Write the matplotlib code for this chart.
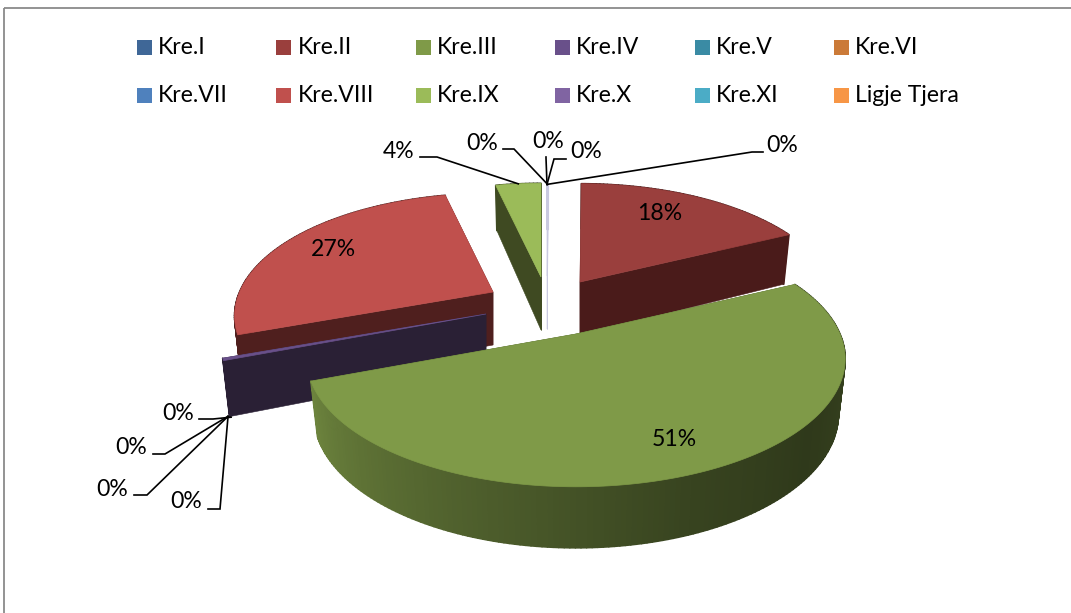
import numpy as np
import matplotlib
matplotlib.use('Agg')
import matplotlib.pyplot as plt
from matplotlib.patches import Polygon, Rectangle
from matplotlib.collections import PolyCollection
from matplotlib.colors import to_rgb

# data
names = ['Kre.I', 'Kre.II', 'Kre.III', 'Kre.IV', 'Kre.V', 'Kre.VI',
         'Kre.VII', 'Kre.VIII', 'Kre.IX', 'Kre.X', 'Kre.XI', 'Ligje Tjera']
values = [0.1, 17.7, 51.4, 0.3, 0.0, 0.0, 0.0, 26.9, 3.6, 0.0, 0.0, 0.0]

colors = ['#3f6797', '#9a3f3d', '#7f9a48', '#69508a', '#3a8ba4', '#cb7a38',
          '#4f81bd', '#c0504d', '#9bbb59', '#8064a2', '#4bacc6', '#f79646']

plt.rcParams['font.family'] = ['Lato', 'DejaVu Sans']

# look of the fake 3d pie, all in pixels
R = 264
G = 123
P = 0.195
DEPTH = 53
# where each exploded slice has its tip, and how big it is
tips = {'Kre.I': (547, 276), 'Kre.II': (580, 282), 'Kre.III': (576, 334),
        'Kre.IV': (486, 314), 'Kre.V': (486, 314), 'Kre.VI': (486, 314),
        'Kre.VII': (486, 314), 'Kre.VIII': (493, 292), 'Kre.IX': (541, 277),
        'Kre.X': (547, 276), 'Kre.XI': (547, 276), 'Ligje Tjera': (547, 276)}
scale = {'Kre.I': 0.89, 'Kre.X': 0.89, 'Kre.XI': 0.89, 'Ligje Tjera': 0.89,
         'Kre.IX': 0.91, 'Kre.II': 0.955, 'Kre.VIII': 0.96, 'Kre.IV': 0.99}
wall_col = {'Kre.I': '#c9c9e0', 'Kre.II': '#4a1b1a', 'Kre.III': '#3a4820', 'Kre.IV': '#2a2035',
            'Kre.VIII': '#4f1f1e', 'Kre.IX': '#3f4a22'}
top_col = {'Kre.I': '#c9c9e0'}
draw_order = ['Kre.VIII', 'Kre.IV', 'Kre.IX', 'Kre.I', 'Kre.II', 'Kre.III']

# label centre for the percent text
label_pos = {'Kre.II': (660, 213), 'Kre.III': (674, 439), 'Kre.VIII': (333, 249), 'Kre.IX': (399, 151),
             'Kre.I': (482, 143), 'Kre.X': (548, 142), 'Kre.XI': (586, 152), 'Ligje Tjera': (782, 145),
             'Kre.IV': (178, 413), 'Kre.V': (131, 447), 'Kre.VI': (112, 489), 'Kre.VII': (186, 501)}
# leader line: start and elbow next to the label
leaders = {'Kre.IX': [(420, 157), (437, 157)], 'Kre.I': [(503, 149), (514, 149)],
           'Kre.X': [(546, 157), (546, 158)], 'Kre.XI': [(566, 159), (554, 159)],
           'Ligje Tjera': [(763, 152), (752, 152)],
           'Kre.IV': [(199, 419), (213, 419)], 'Kre.V': [(153, 454), (165, 454)],
           'Kre.VI': [(134, 495), (147, 495)], 'Kre.VII': [(208, 509), (220, 509)]}


def offs(theta, k=1.0):
    # theta clockwise from the back of the pie, degrees
    t = np.radians(theta)
    x, y = np.sin(t), np.cos(t)
    s = 1 / (1 + P * y)
    return k * R * x * s, -k * G * y * s


def depth(theta):
    return DEPTH - 8 * np.cos(np.radians(theta))


def top_pts(name, a, b):
    tx, ty = tips[name]
    th = np.linspace(a, b, max(int(b - a), 2) + 1)
    dx, dy = offs(th, scale.get(name, 1.0))
    return tx + dx, ty + dy, th


def shade(theta):
    return np.interp(theta, [60, 90, 130, 160, 200, 250], [0.40, 0.44, 0.37, 0.44, 0.62, 0.86])


fig = plt.figure(figsize=(10.71, 6.13), dpi=100)
ax = fig.add_axes([0, 0, 1, 1])
ax.set_xlim(0, 1071)
ax.set_ylim(613, 0)
ax.axis('off')

# chart border, runs off the picture on the right and bottom
ax.add_patch(Rectangle((4, 8), 1200, 800, fill=False, ec='#8a8a8a', lw=1.3))

# legend
for i, (n, c) in enumerate(zip(names, colors)):
    col = i % 6
    row = i // 6
    x = 137 + col * 139.4
    y = 40 + row * 48
    ax.add_patch(Rectangle((x, y), 15, 15, fc=c, ec='none'))
    ax.text(x + 21, y + 7.5, n, fontsize=16.6, va='center', ha='left', color='black')

# slices
angles = np.cumsum([0] + values) * 360 / sum(values)
start = dict(zip(names, angles[:-1]))
end = dict(zip(names, angles[1:]))

for n in draw_order:
    a, b = start[n], end[n]
    xs, ys, th = top_pts(n, a, b)
    tx, ty = tips[n]
    c = colors[names.index(n)]
    wc = wall_col[n]

    # flat walls on both cut edges
    for i in [0, -1]:
        d0 = depth(th[i])
        px = [tx, xs[i], tx + (xs[i] - tx) * 0.975, tx]
        py = [ty, ys[i], ys[i] + d0, ty + DEPTH]
        ax.add_patch(Polygon(np.column_stack([px, py]), fc=wc, ec=wc, lw=0.4))

    # outer round wall, split up so it can carry the gradient
    bx = tx + (xs - tx) * 0.975
    by = ys + depth(th)
    quads = [[(xs[i], ys[i]), (xs[i + 1], ys[i + 1]), (bx[i + 1], by[i + 1]), (bx[i], by[i])]
             for i in range(len(th) - 1)]
    if n == 'Kre.III':
        base = np.array(to_rgb(c))
        qc = [tuple(base * shade((th[i] + th[i + 1]) / 2)) for i in range(len(th) - 1)]
    else:
        qc = [wc] * len(quads)
    ax.add_collection(PolyCollection(quads, facecolors=qc, edgecolors=qc, linewidths=1.2))

    # top surface
    tc = top_col.get(n, c)
    ax.add_patch(Polygon(np.column_stack([np.r_[tx, xs], np.r_[ty, ys]]), fc=tc, ec=tc, lw=0.5))

# percent labels and leader lines
for n, v in zip(names, values):
    lx, ly = label_pos[n]
    ax.text(lx, ly, f'{v:.0f}%', fontsize=16.6, ha='center', va='center', color='black')
    if n in leaders:
        mid = (start[n] + end[n]) / 2
        xs, ys, th = top_pts(n, mid, mid + 0.01)
        ex, ey = xs[0], ys[0]
        if n in ['Kre.IV', 'Kre.V', 'Kre.VI', 'Kre.VII']:
            ex, ey = ex + 8, ey + depth(mid) + 2
        pts = leaders[n] + [(ex, ey)]
        ax.plot([p[0] for p in pts], [p[1] for p in pts], color='black', lw=1.2,
                solid_joinstyle='miter')

plt.savefig('out.png', dpi=100)
